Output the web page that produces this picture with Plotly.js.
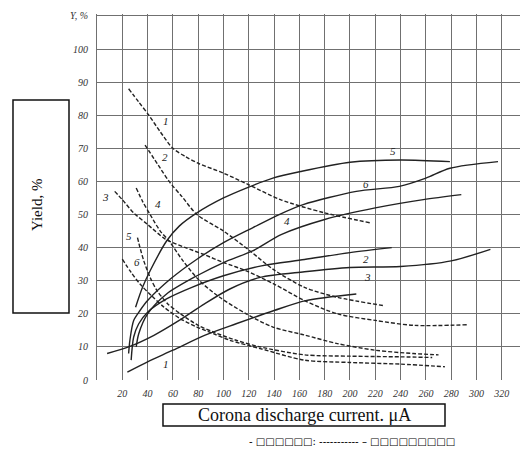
<!DOCTYPE html>
<html>
<head>
<meta charset="utf-8">
<script src="https://cdn.plot.ly/plotly-3.0.1.min.js"></script>
<style>html,body{margin:0;padding:0;background:#fff;}#chart{width:520px;height:454px;}</style>
</head>
<body>
<div id="chart"></div>
<script>
// ---- data ----
// rising curves (solid)
const xRise1 = [24, 40, 60, 85, 110, 140, 165, 205];
const yRise1 = [2.4, 5.5, 9, 13.5, 17, 21, 24, 26];
const xRise2 = [27, 29, 33, 40, 55, 75, 100, 130, 164, 200, 233];
const yRise2 = [6, 13, 17, 20.5, 24.5, 28, 31.5, 34.5, 36.4, 38.5, 40];
const xRise3 = [8, 25, 45, 65, 85, 105, 129, 164, 200, 240, 280, 311];
const yRise3 = [8, 10, 13.5, 18, 23, 27.5, 31, 32.7, 34, 34.3, 36, 39.5];
const xRise4 = [31, 33, 40, 55, 79, 100, 123, 146, 180, 220, 258, 288];
const yRise4 = [10, 14, 20, 26, 31.5, 35.5, 39, 44, 48.5, 52, 54.5, 56];
const xRise5 = [30.5, 36, 42, 55, 65, 79, 100, 118, 139, 161, 200, 240, 279];
const yRise5 = [22, 28, 33, 42, 46.5, 50.5, 55, 58, 61, 63, 65.8, 66.5, 66];
const xRise6 = [25, 26, 29, 34, 40, 58, 79, 100, 123, 144, 163, 205, 239, 260, 279, 317];
const yRise6 = [8, 12, 18, 21, 24, 30.5, 36.5, 41.5, 46, 50, 53, 57, 58.5, 61, 64, 66];
// falling curves (dashed)
const xFall1 = [25, 33, 41, 50, 60, 70, 80, 100, 120, 145, 180, 216];
const yFall1 = [88, 84, 80, 75, 70, 67.5, 65.5, 62.5, 59, 54.5, 50.5, 47.5];
const xFall2 = [38, 50, 57, 67, 79, 100, 121, 139, 164, 190, 226];
const yFall2 = [71, 64, 60, 55.5, 50, 45, 39, 33.5, 28, 25, 22.5];
const xFall3 = [14, 20, 29, 40, 54, 70, 84, 100, 118, 140, 164, 190, 220, 251, 293];
const yFall3 = [57, 54.5, 50.5, 47, 42.6, 40, 38, 35.5, 33, 29, 24, 20, 18, 16.5, 16.7];
const xFall4 = [31, 36, 42, 50, 57, 68, 81, 97, 118, 139, 164, 190, 220, 250, 270];
const yFall4 = [58, 54, 50, 45, 42, 36, 30, 25, 20, 16, 13.6, 11, 9, 8, 7.6];
const xFall5 = [32, 34, 37, 42, 47.5, 56, 66, 80, 92, 110, 129, 164, 200, 240, 265];
const yFall5 = [43, 40, 36, 31, 27, 23, 20, 16.5, 14.5, 12, 10, 7.6, 7.2, 7, 6.8];
const xFall6 = [20, 27, 34, 43, 53, 66, 79, 92, 105, 129, 164, 200, 240, 275];
const yFall6 = [36.5, 32.5, 29, 25.5, 22, 18.5, 16, 14, 12, 9.5, 6, 5.3, 4.8, 4];

const xTicks = [20, 40, 60, 80, 100, 120, 140, 160, 180, 200, 220, 240, 260, 280, 300, 320];
const yTicks = [0, 10, 20, 30, 40, 50, 60, 70, 80, 90, 100, 110];
const yTickText = ['0', '10', '20', '30', '40', '50', '60', '70', '80', '90', '100', 'Y, %'];

const curveLabels = ['1', '2', '3', '4', '5', '6'];
const yAxisTitle = 'Yield, %';
const xAxisTitle = 'Corona discharge current. \u03bcA';
const legendNote = '- \u25a1\u25a1\u25a1\u25a1\u25a1\u25a1: ----------- \u2013 \u25a1\u25a1\u25a1\u25a1\u25a1\u25a1\u25a1\u25a1\u25a1';

// ---- build traces ----
const lineColor = '#222222';
const rising = [[xRise1, yRise1], [xRise2, yRise2], [xRise3, yRise3], [xRise4, yRise4], [xRise5, yRise5], [xRise6, yRise6]];
const falling = [[xFall1, yFall1], [xFall2, yFall2], [xFall3, yFall3], [xFall4, yFall4], [xFall5, yFall5], [xFall6, yFall6]];
const traces = [];
rising.forEach(function (c) {
  traces.push({x: c[0], y: c[1], mode: 'lines', line: {color: lineColor, width: 1.4, shape: 'spline', smoothing: 0.8}, hoverinfo: 'skip'});
});
falling.forEach(function (c) {
  traces.push({x: c[0], y: c[1], mode: 'lines', line: {color: lineColor, width: 1.4, dash: '4px,2px', shape: 'spline', smoothing: 0.8}, hoverinfo: 'skip'});
});

// curve number labels (falling on the left, rising on the right)
const fallLabelPos = [[54.5, 78.2], [53.7, 67.3], [7.1, 55.4], [48.2, 53.3], [25.3, 43.6], [31.6, 35.8]];
const riseLabelPos = [[54.5, 4.8], [212.5, 36.7], [214, 31.2], [150, 48.2], [233.8, 69.1], [212.5, 59.1]];
const labFont = {family: 'Liberation Serif', size: 11, color: '#222', style: 'italic'};
const annotations = [];
fallLabelPos.forEach(function (p, i) {
  annotations.push({x: p[0], y: p[1], xref: 'x', yref: 'y', xanchor: 'center', yanchor: 'middle', text: curveLabels[i], showarrow: false, font: labFont});
});
riseLabelPos.forEach(function (p, i) {
  annotations.push({x: p[0], y: p[1], xref: 'x', yref: 'y', xanchor: 'center', yanchor: 'middle', text: curveLabels[i], showarrow: false, font: labFont});
});
annotations.push({x: -0.1418, y: 0.478, xref: 'paper', yref: 'paper', xanchor: 'center', yanchor: 'middle', text: yAxisTitle, textangle: -90, showarrow: false,
  font: {family: 'Liberation Serif', size: 15, color: '#111'}});
annotations.push({x: 0.4894, y: -0.0956, xref: 'paper', yref: 'paper', xanchor: 'center', yanchor: 'middle', text: xAxisTitle, showarrow: false,
  font: {family: 'Liberation Serif', size: 18, color: '#111'}});
annotations.push({x: 0.603, y: -0.1667, xref: 'paper', yref: 'paper', xanchor: 'center', yanchor: 'middle', text: legendNote, showarrow: false,
  font: {family: 'DejaVu Sans', size: 10, color: '#000'}});

const shapes = [
  {type: 'rect', xref: 'paper', yref: 'paper', x0: -0.1986, x1: -0.0662, y0: 0.183, y1: 0.765, line: {color: '#111', width: 1.5}},
  {type: 'rect', xref: 'paper', yref: 'paper', x0: 0.156, x1: 0.8227, y0: -0.1257, y1: -0.0656, line: {color: '#111', width: 1.5}}
];

const tickFont = {family: 'Liberation Serif', size: 10, color: '#333', style: 'italic'};
const layout = {
  width: 520, height: 454,
  margin: {l: 97, r: 0, t: 14, b: 74},
  paper_bgcolor: '#fff', plot_bgcolor: '#fff',
  showlegend: false,
  xaxis: {range: [0, 334.4], tickvals: xTicks, ticktext: xTicks.map(String), showgrid: true, gridcolor: '#707070', gridwidth: 1,
    zeroline: false, showline: false, ticks: 'outside', ticklen: 4, tickcolor: 'rgba(0,0,0,0)', tickfont: tickFont},
  yaxis: {range: [0, 110.6], tickvals: yTicks, ticktext: yTickText, showgrid: true, gridcolor: '#707070', gridwidth: 1,
    zeroline: false, showline: true, linecolor: '#707070', linewidth: 1, ticks: 'outside', ticklen: 6, tickcolor: 'rgba(0,0,0,0)', tickfont: tickFont},
  annotations: annotations,
  shapes: shapes
};
Plotly.newPlot('chart', traces, layout, {displayModeBar: false, staticPlot: true});
</script>
</body>
</html>
